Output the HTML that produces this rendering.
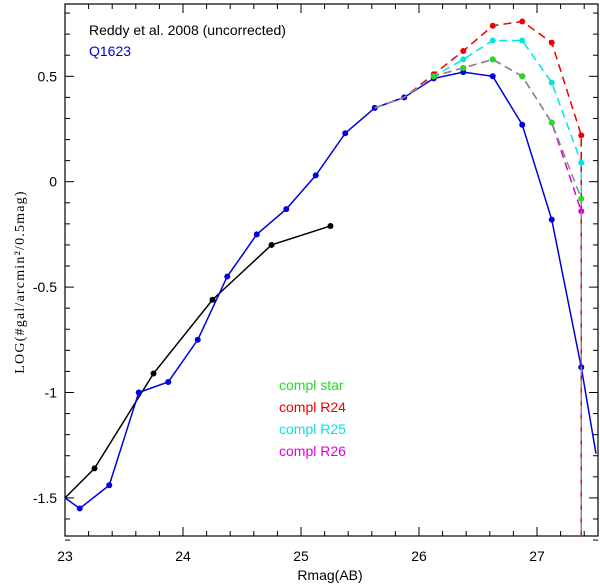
<!DOCTYPE html>
<html><head><meta charset="utf-8"><style>
body{margin:0;background:#fff}
svg{display:block;font-family:"Liberation Sans",sans-serif}
</style></head><body>
<svg id="c" width="600" height="586"></svg>
<script>
const xCats=[23.125,23.375,23.625,23.875,24.125,24.375,24.625,24.875,25.125,25.375,25.625,25.875,26.125,26.375,26.625,26.875,27.125,27.375];
const q1623=[-1.55,-1.44,-1.0,-0.95,-0.75,-0.45,-0.25,-0.13,0.03,0.23,0.35,0.40,0.49,0.52,0.50,0.27,-0.18,-0.88];
const complX=[25.625,25.875,26.125,26.375,26.625,26.875,27.125,27.375];
const complStar=[0.35,0.40,0.50,0.54,0.58,0.50,0.28,-0.08];
const complR24=[0.35,0.40,0.51,0.62,0.74,0.76,0.66,0.22];
const complR25=[0.35,0.40,0.50,0.58,0.67,0.67,0.47,0.09];
const complR26=[0.35,0.40,0.50,0.54,0.58,0.50,0.28,-0.14];
const reddyX=[23.0,23.25,23.75,24.25,24.75,25.25];
const reddyY=[-1.5,-1.36,-0.91,-0.56,-0.30,-0.21];
const xTicks=[23,24,25,26,27];
const yTicks=[0.5,0,-0.5,-1,-1.5];
const yTickLabels=["0.5","0","-0.5","-1","-1.5"];

const L=65,R=598,T=4,B=536;
const X=v=>L+(v-23)*118;
const Y=v=>181.7-v*210.8;
const svg=document.getElementById('c');
const NS='http://www.w3.org/2000/svg';
function mk(t,a,p){const e=document.createElementNS(NS,t);for(const k in a)e.setAttribute(k,a[k]);(p||svg).appendChild(e);return e;}
const clip=mk('clipPath',{id:'cp'});mk('rect',{x:L,y:T,width:R-L,height:B-T},clip);
let e=mk('rect',{x:L,y:T,width:R-L,height:B-T,fill:'none',stroke:'#000','stroke-width':1.2});


for(let v=23.0;v<=27.5001;v+=0.2){const maj=Math.abs(v-Math.round(v))<0.01;const l=maj?9:5;
mk('line',{x1:X(v),x2:X(v),y1:B,y2:B-l,stroke:'#000'});mk('line',{x1:X(v),x2:X(v),y1:T,y2:T+l,stroke:'#000'});}
xTicks.forEach(v=>{const t=mk('text',{x:X(v),y:561,'text-anchor':'middle','font-size':14});t.textContent=v;

});
for(let i=-17;i<=8;i++){const v=i/10;const maj=i%5==0;const l=maj?9:5;
mk('line',{x1:L,x2:L+l,y1:Y(v),y2:Y(v),stroke:'#000'});mk('line',{x1:R,x2:R-l,y1:Y(v),y2:Y(v),stroke:'#000'});}
yTicks.forEach((v,i)=>{const t=mk('text',{x:57,y:Y(v)+5,'text-anchor':'end','font-size':14});t.textContent=yTickLabels[i];

});
let xl=mk('text',{x:330,y:580,'text-anchor':'middle','font-size':14});xl.textContent='Rmag(AB)';


let yl=mk('text',{x:0,y:0,transform:'translate(24,282) rotate(-90)','text-anchor':'middle','font-size':14,'letter-spacing':1.2,'font-family':'Liberation Serif,serif'});yl.textContent='LOG(#gal/arcmin²/0.5mag)';


const g=mk('g',{'clip-path':'url(#cp)'});
function series(xs,ys,col,dash,name,extra,markers){
 let pts=xs.map((x,i)=>X(x)+','+Y(ys[i]));
 if(extra.pre)pts.unshift(X(extra.pre[0])+','+Y(extra.pre[1]));
 if(extra.post)pts.push(X(extra.post[0])+','+Y(extra.post[1]));
 const p=mk('polyline',{points:pts.join(' '),fill:'none',stroke:col,'stroke-width':1.5,'stroke-dasharray':dash||'none'},g);
 
 
 xs.forEach((x,i)=>{if(markers&&!markers(i))return;const c=mk('circle',{cx:X(x),cy:Y(ys[i]),r:3,fill:col},g);
 
 });
}
series(reddyX,reddyY,'#000',null,'reddy',{},i=>i>0);
series(xCats,q1623,'#0000dd',null,'q1623',{pre:[23.0,-1.5],post:[27.5,-1.29]});
series(complX,complR24,'#ee0000','8,5','compl-r24',{post:[27.375,-2]},i=>i>=2);
series(complX,complR25,'#00e5e5','8,5','compl-r25',{post:[27.375,-2]},i=>i>=2);
series(complX,complR26,'#dd00dd','8,5','compl-r26',{post:[27.375,-2]},i=>i>=2);
series(complX,complStar,'#888','8,5','compl-star',{post:[27.375,-2]},i=>false);
complX.forEach((x,i)=>{if(i<2)return;const c=mk('circle',{cx:X(x),cy:Y(complStar[i]),r:3,fill:'#22dd22'},g);

});
[['Reddy et al. 2008 (uncorrected)','#000',89,35],['Q1623','#0000dd',89,56]].forEach(a=>{const t=mk('text',{x:a[2],y:a[3],fill:a[1],'font-size':14});t.textContent=a[0];

});
[['compl star','#22dd22'],['compl R24','#ee0000'],['compl R25','#00e5e5'],['compl R26','#dd00dd']].forEach((a,i)=>{const t=mk('text',{x:279,y:390+i*22,fill:a[1],'font-size':14});t.textContent=a[0];

});
</script>
</body></html>
